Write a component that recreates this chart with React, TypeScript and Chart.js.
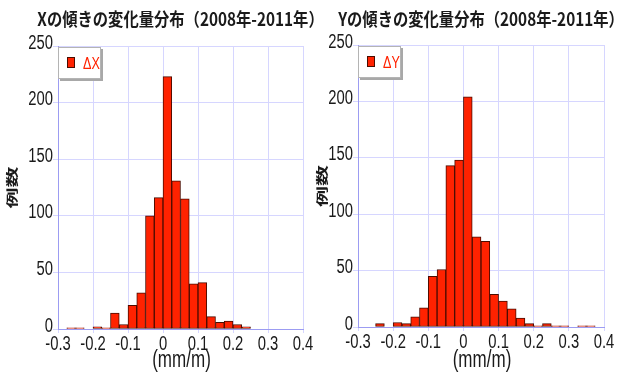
import React, { useEffect, useRef } from "react";
import { Chart, registerables } from "chart.js";

Chart.register(...registerables);

// Histogram bins: width 0.025 mm/m, centres from -0.2875 to 0.3875
const BIN_CENTERS = [
  -0.2875, -0.2625, -0.2375, -0.2125, -0.1875, -0.1625, -0.1375,
  -0.1125, -0.0875, -0.0625, -0.0375, -0.0125, 0.0125, 0.0375,
  0.0625, 0.0875, 0.1125, 0.1375, 0.1625, 0.1875, 0.2125,
  0.2375, 0.2625, 0.2875, 0.3125, 0.3375, 0.3625, 0.3875,
];

// Number of cases in each bin
const DX_COUNTS = [
  0, 1, 1, 0, 2, 1, 14,
  4, 21, 32, 100, 116, 223, 131,
  115, 40, 41, 11, 6, 7, 4,
  2, 0, 0, 0, 0, 0, 0,
];
const DY_COUNTS = [
  0, 0, 3, 0, 4, 3, 9,
  17, 45, 51, 143, 148, 204, 80,
  76, 29, 23, 16, 8, 3, 1,
  3, 1, 1, 0, 1, 1, 0,
];

const X_TICK_VALUES = [-0.3, -0.2, -0.1, 0, 0.1, 0.2, 0.3, 0.4];
const X_TICK_LABELS = ["-0.3", "-0.2", "-0.1", "0", "0.1", "0.2", "0.3", "0.4"];
const Y_TICK_VALUES = [0, 50, 100, 150, 200, 250];
const Y_TICK_LABELS = ["0", "50", "100", "150", "200", "250"];

const TITLE_X = "Xの傾きの変化量分布（2008年-2011年）";
const TITLE_Y = "Yの傾きの変化量分布（2008年-2011年）";
const LEGEND_X = "ΔX";
const LEGEND_Y = "ΔY";
const AXIS_TITLE_X = "(mm/m)";
const AXIS_TITLE_Y = "例数";

const RED = "#ff2200";
const BAR_EDGE = "#4a0c00";
const GRID = "#d6d6ff";
const AXIS = "#9c9cf2";
const TEXT = "#1a1a1a";
const LATIN = "'Liberation Sans', Arial, sans-serif";
const CJK = "'Noto Sans CJK JP', 'Noto Sans', sans-serif";
const NARROW_SCALE = 0.74;

type Area = { left: number; right: number; top: number; bottom: number };

type HistProps = {
  counts: number[];
  title: string;
  legend: string;
  width: number;
  height: number;
  area: Area;
};

// Draws text horizontally condensed around an anchor point
function condensedText(ctx: CanvasRenderingContext2D, text: string, x: number, y: number, align: CanvasTextAlign, sx: number) {
  ctx.save();
  ctx.translate(x, y);
  ctx.scale(sx, 1);
  ctx.textAlign = align;
  ctx.fillText(text, 0, 0);
  ctx.restore();
}

function Histogram({ counts, title, legend, width, height, area }: HistProps) {
  const ref = useRef<HTMLCanvasElement | null>(null);

  useEffect(() => {
    if (!ref.current) return;

    const decor = {
      id: "decor",
      afterDraw(chart: any) {
        const { ctx, chartArea: ca, scales } = chart;
        const cx = (ca.left + ca.right) / 2;

        ctx.save();
        ctx.fillStyle = TEXT;
        ctx.textBaseline = "middle";

        // chart title
        ctx.font = `bold 18px ${CJK}`;
        condensedText(ctx, title, cx, 19, "center", 0.85);

        // tick labels in a narrow face
        ctx.font = `20px ${LATIN}`;
        Y_TICK_VALUES.forEach((v, i) => {
          const py = scales.y.getPixelForValue(v);
          condensedText(ctx, Y_TICK_LABELS[i], ca.left - 5, py - 3, "right", NARROW_SCALE);
        });
        X_TICK_VALUES.forEach((v, i) => {
          const px = scales.x.getPixelForValue(v);
          condensedText(ctx, X_TICK_LABELS[i], px, ca.bottom + 15, "center", NARROW_SCALE);
        });

        // horizontal axis title
        ctx.font = `23px ${LATIN}`;
        condensedText(ctx, AXIS_TITLE_X, cx + 1, 361, "center", NARROW_SCALE);

        // vertical axis title
        ctx.font = `bold 12px ${CJK}`;
        ctx.translate(12, (ca.top + ca.bottom) / 2);
        ctx.rotate(-Math.PI / 2);
        condensedText(ctx, AXIS_TITLE_Y, 0, 0, "center", 1.75);
        ctx.restore();

        // legend box inside the plot
        const bx = ca.left;
        const by = ca.top + 1;
        const bw = 43;
        const bh = 32;
        ctx.save();
        ctx.fillStyle = "#a8a8a8";
        ctx.fillRect(bx + 2, by + 2, bw, bh);
        ctx.fillStyle = "#ffffff";
        ctx.fillRect(bx, by, bw, bh);
        ctx.strokeStyle = "#b4b4b4";
        ctx.lineWidth = 1;
        ctx.strokeRect(bx + 0.5, by + 0.5, bw - 1, bh - 1);
        ctx.fillStyle = RED;
        ctx.fillRect(bx + 9, by + 10, 8, 11);
        ctx.strokeStyle = BAR_EDGE;
        ctx.strokeRect(bx + 9.5, by + 10.5, 7, 10);
        ctx.font = `17px ${LATIN}`;
        ctx.fillStyle = RED;
        ctx.textBaseline = "middle";
        condensedText(ctx, legend, bx + 25, by + 17, "left", NARROW_SCALE);
        ctx.restore();
      },
    };

    const chart = new Chart(ref.current, {
      type: "bar",
      data: {
        datasets: [
          {
            label: legend,
            data: BIN_CENTERS.map((x, i) => ({ x, y: counts[i] })),
            backgroundColor: RED,
            borderColor: BAR_EDGE,
            borderWidth: 1,
            borderSkipped: false,
            barPercentage: 1,
            categoryPercentage: 1,
          },
        ],
      },
      options: {
        animation: false,
        responsive: false,
        layout: {
          padding: { top: area.top, right: width - area.right, left: 0, bottom: 0 },
        },
        plugins: {
          legend: { display: false },
          title: { display: false },
          tooltip: { enabled: false },
        },
        scales: {
          x: {
            type: "linear",
            min: -0.3,
            max: 0.4,
            offset: false,
            afterBuildTicks(scale: any) {
              scale.ticks = X_TICK_VALUES.map((v) => ({ value: v }));
            },
            afterFit(scale: any) {
              scale.height = height - area.bottom;
              scale.paddingLeft = 0;
              scale.paddingRight = 0;
            },
            ticks: { display: false },
            grid: { color: GRID, lineWidth: 1, tickLength: 4, offset: false },
            border: { color: AXIS, width: 1 },
          },
          y: {
            type: "linear",
            min: 0,
            max: 250,
            afterBuildTicks(scale: any) {
              scale.ticks = Y_TICK_VALUES.map((v) => ({ value: v }));
            },
            afterFit(scale: any) {
              scale.width = area.left;
              scale.paddingTop = 0;
              scale.paddingBottom = 0;
            },
            ticks: { display: false },
            grid: { color: GRID, lineWidth: 1, tickLength: 5 },
            border: { color: AXIS, width: 1 },
          },
        },
      },
      plugins: [decor],
    } as any);

    return () => chart.destroy();
  }, [counts, title, legend, width, height, area]);

  return <canvas ref={ref} width={width} height={height} style={{ display: "block" }} />;
}

const LEFT_AREA: Area = { left: 58, right: 303, top: 46, bottom: 329 };
const RIGHT_AREA: Area = { left: 48, right: 294, top: 45, bottom: 327 };

export default function App() {
  return (
    <div style={{ position: "absolute", left: 0, top: 0, width: 620, height: 377, background: "#ffffff" }}>
      <div style={{ position: "absolute", left: 0, top: 0 }}>
        <Histogram counts={DX_COUNTS} title={TITLE_X} legend={LEGEND_X} width={320} height={377} area={LEFT_AREA} />
      </div>
      <div style={{ position: "absolute", left: 310, top: 0 }}>
        <Histogram counts={DY_COUNTS} title={TITLE_Y} legend={LEGEND_Y} width={310} height={377} area={RIGHT_AREA} />
      </div>
    </div>
  );
}
